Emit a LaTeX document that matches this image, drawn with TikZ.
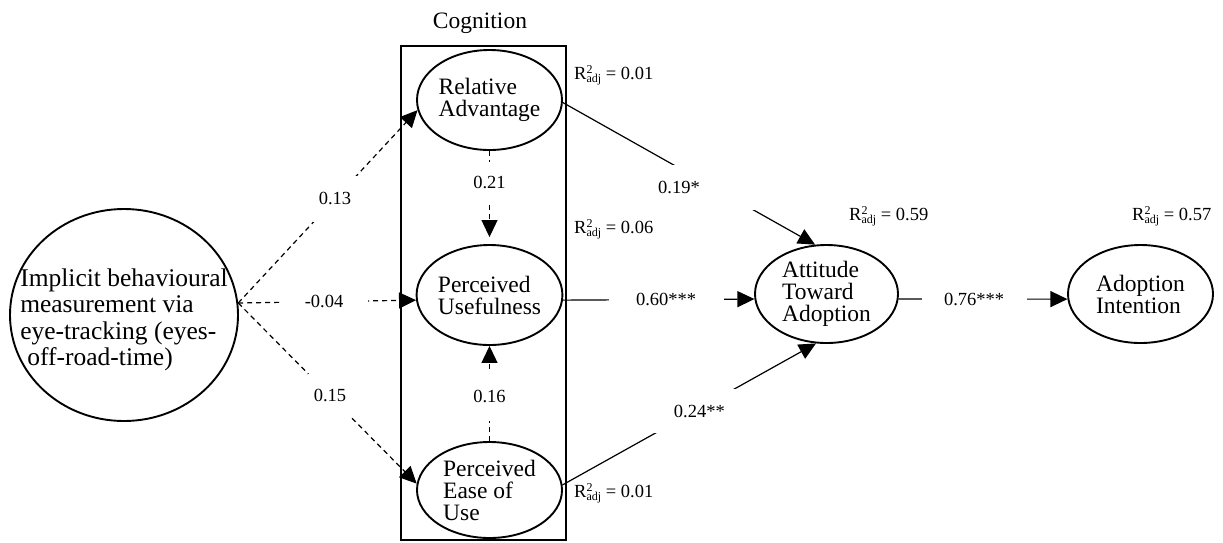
\documentclass[tikz,border=0pt]{standalone}
\usepackage{fontspec}
\setmainfont{Liberation Serif}
\usetikzlibrary{shapes.geometric,arrows.meta}
\newcommand\fmain{\fontsize{23.5}{22}\selectfont}
\newcommand\fimp{\fontsize{25.5}{26.5}\selectfont}
\newcommand\fcoef{\fontsize{18.5}{20}\selectfont}
\newcommand\frsq{\fontsize{18.5}{20}\selectfont}
\newcommand\fsubsup{\fontsize{12}{13}\selectfont}
\newcommand\rsqlbl[1]{R\makebox[0pt][l]{\raisebox{5.2pt}{\fsubsup 2}}\raisebox{-3.5pt}{\fsubsup adj} = #1}
\begin{document}
\begin{tikzpicture}[x=1pt,y=-1pt,
  latent/.style={draw, ellipse, line width=1.9pt, inner sep=0pt,
    minimum width=145pt, minimum height=100pt, align=left, font=\fmain},
  cogframe/.style={draw, line width=2pt, minimum width=165pt, minimum height=494pt, inner sep=0pt},
  conn/.style={line width=1.2pt, -{Triangle[length=17pt,width=16pt]}},
  dconn/.style={conn, dash pattern=on 5pt off 4pt},
  coef/.style={fill=white, font=\fcoef, inner sep=0pt},
  rsq/.style={anchor=base west, font=\frsq, inner sep=0pt}]
\useasboundingbox (0,0) rectangle (1223,542);
% frame and title
\node[cogframe] (cog) at (483.5,293) {};
\node[anchor=base, font=\fmain, inner sep=0pt] (cogtitle) at (480,28) {Cognition};
% latent variables
\node[latent] (ra) at (489.5,100) {Relative\\Advantage};
\node[latent] (pu) at (489.5,295) {Perceived\\Usefulness};
\node[latent, minimum height=96pt] (peou) at (489.5,490) {Perceived\\Ease of\\Use};
\node[latent, minimum width=143pt, minimum height=98pt] (att) at (826.5,294) {Attitude\\Toward\\Adoption};
\node[latent, minimum height=98pt] (ai) at (1140.5,294) {Adoption\\Intention};
\node[latent, minimum width=228pt, minimum height=212pt, font=\fimp, inner xsep=-25pt] (imp) at (124,315)
  {\rule{0pt}{27.5pt}Implicit behavioural\\measurement via\\eye-tracking (eyes-\\\hphantom{i}off-road-time)};
% dashed paths
\draw[dconn] (imp.6) -- node[coef, minimum width=44pt, minimum height=46pt, pos=0.54] (l13) {0.13} (ra.188);
\draw[dconn] (imp.6) -- node[coef, minimum width=87pt, minimum height=20pt, pos=0.483] (l04) {-0.04} (pu.184);
\draw[dconn] (imp.6) -- node[coef, minimum width=44pt, minimum height=44pt, pos=0.514] (l15) {0.15} (peou.175);
\draw[dconn, shorten >=7pt] (ra.south) -- node[coef, minimum width=44pt, minimum height=41pt, pos=0.34] (l21) {0.21} (pu.north);
\draw[dconn] (peou.north) -- node[coef, minimum width=44pt, minimum height=49pt, pos=0.464] (l16) {0.16} (pu.south);
% solid paths
\draw[conn] (ra.-2) -- node[coef, text width=110pt, align=left, minimum height=45pt, pos=0.596] (l19) {0.19*} (att.103);
\draw[conn] (pu.-4) -- node[coef, minimum width=115pt, minimum height=20pt, pos=0.539] (l60) {0.60***} (att.184);
\draw[conn] (peou.4) -- node[coef, minimum width=84pt, minimum height=44pt, pos=0.52] (l24) {\kern10pt 0.24**} (att.258);
\draw[conn] (att.-4) -- node[coef, minimum width=105pt, minimum height=20pt, pos=0.447] (l76) {0.76***} (ai.184);
% explained variance
\node[rsq] (r1) at (574,79) {\rsqlbl{0.01}};
\node[rsq] (r2) at (574,233) {\rsqlbl{0.06}};
\node[rsq] (r3) at (574,497) {\rsqlbl{0.01}};
\node[rsq] (r4) at (849,220) {\rsqlbl{0.59}};
\node[rsq] (r5) at (1132,220) {\rsqlbl{0.57}};
\end{tikzpicture}
\end{document}
